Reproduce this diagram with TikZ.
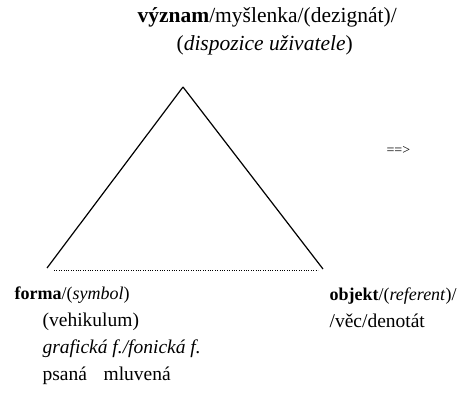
\documentclass[tikz,border=0pt]{standalone}
\usepackage{fontspec}
\setmainfont{Liberation Serif}
\usetikzlibrary{positioning}
\begin{document}
\begin{tikzpicture}[x=1pt, y=-1pt, line width=1.2pt,
  every node/.style={inner sep=0pt, font=\fontsize{19.5}{24}\selectfont},
  label/.style={anchor=base west},
  nazev/.style={label, font=\fontsize{18}{24}\selectfont},
  horni/.style={label, font=\fontsize{21.5}{26}\selectfont}]
  % 1. rozmer obrazku
  \useasboundingbox (0,0) rectangle (461,415);

  % 2. vrcholy trojuhelniku
  \coordinate (vrchol) at (183,87);
  \coordinate (levy) at (47,268);
  \coordinate (pravy) at (323,269);
  \coordinate (tecky-l) at (54,270);
  \coordinate (tecky-p) at (318,270);

  % 3. strany
  \draw (vrchol) -- (levy);
  \draw (vrchol) -- (pravy);
  \draw[dotted, thin] (tecky-l) -- (tecky-p);

  % 4. popisky
  \node[horni] (vyznam) at (137,23) {\textbf{význam}/myšlenka/(dezignát)/};
  \node[horni] (dispozice) at (176,50) {(\textit{dispozice uživatele})};
  \node[nazev] (forma) at (14,299) {\textbf{forma}/(\textit{symbol})};
  \node[label] (vehikulum) at (42,326) {(vehikulum)};
  \node[label] (graficka) at (42,353) {\textit{grafická f./fonická f.}};
  \node[label] (psana) at (42,380) {psaná};
  \node[label] (mluvena) at (103,380) {mluvená};
  \node[nazev] (objekt) at (329,300) {\textbf{objekt}/(\textit{referent})/};
  \node[label] (vec) at (329,327) {/věc/denotát};
  \node[label, font=\fontsize{14}{16}\selectfont] (sipka) at (386,154) {==>};
\end{tikzpicture}
\end{document}
